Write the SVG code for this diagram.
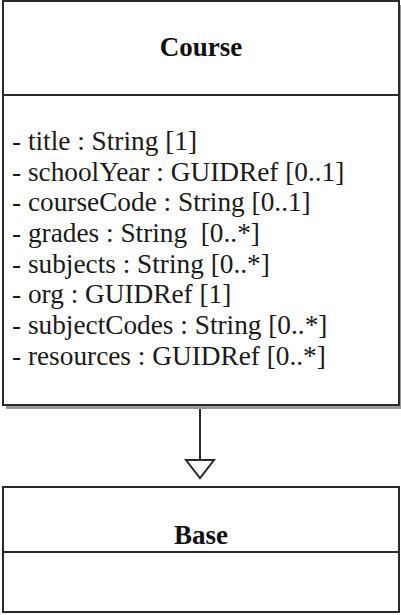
<svg xmlns="http://www.w3.org/2000/svg" width="401" height="615" viewBox="0 0 401 615">
<style>
.box{fill:#fff;stroke:#2a2a2a;stroke-width:2}
.shadow{fill:#9a9a9a}
.div{stroke:#2a2a2a;stroke-width:2}
.title{font-family:"Liberation Serif","Times New Roman",serif;font-weight:bold;font-size:27px;fill:#111;text-anchor:middle}
.attr{font-family:"Liberation Serif","Times New Roman",serif;font-size:27.3px;fill:#1a1a1a}
.conn{stroke:#2a2a2a;stroke-width:2;fill:none}
.tri{fill:#fff;stroke:#2a2a2a;stroke-width:2}
</style>
<rect width="401" height="615" fill="#fff"/>
<g id="course">
<rect class="shadow" x="6" y="5" width="395" height="404"/>
<rect class="box" x="3" y="1" width="396" height="404"/>
<line class="div" x1="3" y1="95" x2="399" y2="95"/>
<text class="title" x="201" y="56">Course</text>
<text class="attr" x="12" y="150">- title : String [1]</text>
<text class="attr" x="12" y="181">- schoolYear : GUIDRef [0..1]</text>
<text class="attr" x="12" y="211">- courseCode : String [0..1]</text>
<text class="attr" x="12" y="242" xml:space="preserve">- grades : String  [0..*]</text>
<text class="attr" x="12" y="273">- subjects : String [0..*]</text>
<text class="attr" x="12" y="303">- org : GUIDRef [1]</text>
<text class="attr" x="12" y="334">- subjectCodes : String [0..*]</text>
<text class="attr" x="12" y="365">- resources : GUIDRef [0..*]</text>
</g>
<g id="connectors">
<line class="conn" x1="200" y1="409" x2="200" y2="460"/>
<polygon class="tri" points="186,460 214,460 200,478"/>
</g>
<g id="base">
<rect class="box" x="3" y="487" width="396" height="125"/>
<line class="div" x1="3" y1="552" x2="399" y2="552"/>
<text class="title" x="201" y="544">Base</text>
</g>
</svg>
